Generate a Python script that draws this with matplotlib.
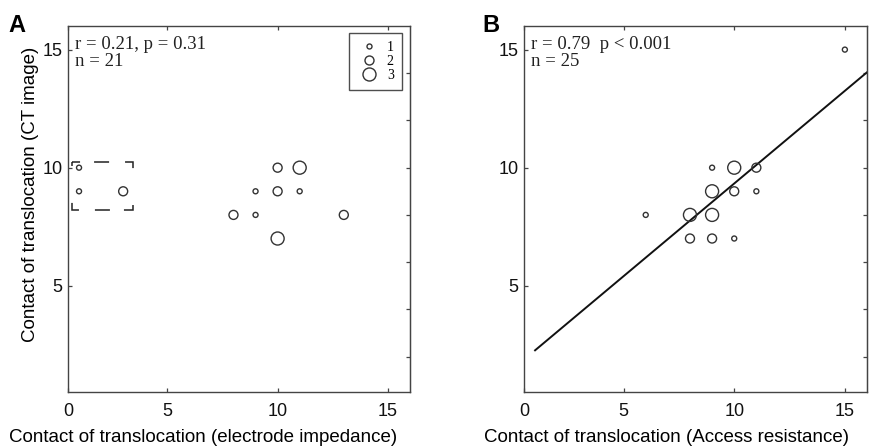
import matplotlib
matplotlib.use("Agg")
import matplotlib.pyplot as plt
from matplotlib.lines import Line2D
import numpy as np

plt.rcParams["lines.scale_dashes"] = False

# ---------------- data ----------------
# Panel A: electrode impedance vs CT image (x, y, count)
a_x = [1, 1, 3, 10, 11, 9, 10, 11, 8, 9, 13, 10]
a_y = [10, 9, 9, 10, 10, 9, 9, 9, 8, 8, 8, 7]
a_n = [1, 1, 2, 2, 3, 1, 2, 1, 2, 1, 2, 3]
a_stats = ["r = 0.21, p = 0.31", "n = 21"]
a_box = [0.7, 8.2, 3.45, 10.25]  # x0, y0, x1, y1 of dashed highlight

# Panel B: access resistance vs CT image (x, y, count)
b_x = [15, 9, 10, 11, 9, 10, 11, 6, 8, 9, 8, 9, 10]
b_y = [15, 10, 10, 10, 9, 9, 9, 8, 8, 8, 7, 7, 7]
b_n = [1, 1, 3, 2, 3, 2, 1, 1, 3, 3, 2, 2, 1]
b_stats = ["r = 0.79  p < 0.001", "n = 25"]
b_fit_slope = 0.785
b_fit_intercept = 1.48
b_fit_range = [1.0, 16.0]

legend_counts = [1, 2, 3]
xtick_vals = [0.5, 5, 10, 15]
xtick_labels = ["0", "5", "10", "15"]
ytick_vals = [5, 10, 15]
right_ticks = [2, 4, 6, 8, 10, 12, 14]

xlabel_a = "Contact of translocation (electrode impedance)"
xlabel_b = "Contact of translocation (Access resistance)"
ylabel = "Contact of translocation (CT image)"

# ---------------- style ----------------
SANS = ["Liberation Sans", "DejaVu Sans"]
SERIF = ["Liberation Serif", "DejaVu Serif"]
INK = "#333333"
size_map = {1: 13, 2: 42, 3: 88}

fig = plt.figure(figsize=(8.92, 4.47), dpi=100)
axA = fig.add_axes([68/892, 55/447, 342/892, 366/447])
axB = fig.add_axes([524/892, 55/447, 343/892, 366/447])


def style_axes(ax):
    ax.set_xlim(0.5, 16)
    ax.set_ylim(0.5, 16)
    ax.set_xticks(xtick_vals)
    ax.set_xticklabels(xtick_labels)
    ax.set_yticks(ytick_vals)
    for sp in ax.spines.values():
        sp.set_color("#444444")
        sp.set_linewidth(1.0)
    ax.tick_params(direction="in", length=3, width=0.9, color="#444444",
                   top=True, right=False, labelsize=13)
    ax.tick_params(axis="x", pad=8)
    ax.tick_params(axis="y", pad=4)
    for lab in ax.get_xticklabels() + ax.get_yticklabels():
        lab.set_family(SANS)
        lab.set_color("#111111")
    sec = ax.secondary_yaxis("right")
    sec.set_yticks(right_ticks)
    sec.set_yticklabels([])
    sec.tick_params(direction="in", length=3, width=0.9, color="#444444")
    sec.spines["right"].set_color("#444444")


def scatter(ax, xs, ys, ns):
    ax.scatter(xs, ys, s=[size_map[n] for n in ns], facecolors="none",
               edgecolors=INK, linewidths=1.0, zorder=3)


def stats(ax, lines):
    ax.text(0.02, 0.972, "\n".join(lines), transform=ax.transAxes,
            ha="left", va="top", family=SERIF, fontsize=13.5,
            color="#222222", linespacing=0.95)


# Panel A
style_axes(axA)
scatter(axA, a_x, a_y, a_n)
stats(axA, a_stats)
x0, y0, x1, y1 = a_box
# dash pattern in points (corners + middle dashes)
box_dashes = (10.1, 10.1, 10.8, 11.5, 10.1, 26.6)
axA.plot([x0, x1, x1, x0, x0], [y1, y1, y0, y0, y1], color="#222222",
         lw=1.1, linestyle=(4.3, box_dashes), zorder=2,
         solid_joinstyle="miter", dash_joinstyle="miter", dash_capstyle="butt")
handles = [Line2D([], [], linestyle="none", marker="o", markerfacecolor="none",
                  markeredgecolor=INK, markeredgewidth=1.0,
                  markersize=np.sqrt(size_map[c])) for c in legend_counts]
leg = axA.legend(handles, [str(c) for c in legend_counts], loc="upper right",
                 bbox_to_anchor=(0.977, 0.981), borderaxespad=0,
                 frameon=True, fancybox=False,
                 handlelength=1.6, handletextpad=0.5, borderpad=0.6,
                 labelspacing=0.05, prop={"family": SERIF, "size": 10})
leg.get_frame().set_edgecolor("#222222")
leg.get_frame().set_linewidth(1.0)
axA.set_xlabel(xlabel_a, family=SANS, fontsize=13.5)
axA.xaxis.set_label_coords(0.395, -0.10)
axA.set_ylabel(ylabel, family=SANS, fontsize=13.5)
axA.yaxis.set_label_coords(-0.085, 0.54)
fig.text(8/892, 1 - 32/447, "A", family=SANS,
         fontsize=17, fontweight="bold", ha="left", va="baseline")

# Panel B
style_axes(axB)
scatter(axB, b_x, b_y, b_n)
stats(axB, b_stats)
fx = np.array(b_fit_range)
axB.plot(fx, b_fit_slope * fx + b_fit_intercept, color="#111111", lw=1.4,
         zorder=2, clip_on=True)
axB.set_xlabel(xlabel_b, family=SANS, fontsize=13.5)
axB.xaxis.set_label_coords(0.414, -0.10)
fig.text(482/892, 1 - 32/447, "B", family=SANS,
         fontsize=17, fontweight="bold", ha="left", va="baseline")

fig.savefig("out.png", dpi=100)
